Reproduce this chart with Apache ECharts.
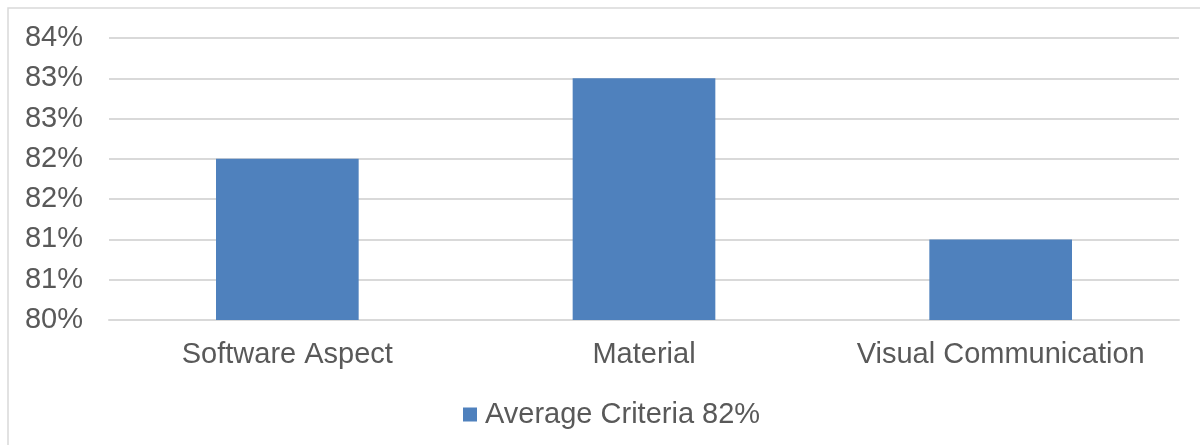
<!DOCTYPE html>
<html>
<head>
<meta charset="utf-8">
<style>
  html, body { margin: 0; padding: 0; background: #fff; }
  #chart { width: 1200px; height: 445px; }
</style>
<script src="https://cdn.jsdelivr.net/npm/echarts@6/dist/echarts.min.js"></script>
</head>
<body>
<div id="chart"></div>
<script>
var categories = ['Software Aspect', 'Material', 'Visual Communication'];
var seriesName = 'Average Criteria 82%';
var seriesValues = [82, 83, 81];
// Excel shows these rounded to whole percent, so ticks repeat
var yTickLabels = ['80%', '81%', '81%', '82%', '82%', '83%', '83%', '84%'];
var yMin = 80, yMax = 83.5, yStep = 0.5;

var myChart = echarts.init(document.getElementById('chart'));
var textColor = '#595959';
var font = 'Liberation Sans, Arial, sans-serif';
var fsize = 29;

var option = {
	animation: false,
	graphic: [{
		type: 'rect',
		shape: { x: 8, y: 8, width: 1300, height: 600 },
		style: { fill: 'none', stroke: '#d9d9d9', lineWidth: 1.5 },
		silent: true
	}],
	grid: { left: 109, right: 21, top: 38, bottom: 125 },
	legend: {
		data: [seriesName],
		left: 458,
		top: 395,
		icon: 'rect',
		itemWidth: 14,
		itemHeight: 14,
		itemGap: 8,
		textStyle: { color: textColor, fontSize: fsize, fontFamily: font, padding: [0, 0, 0, 3] }
	},
	xAxis: {
		type: 'category',
		data: categories,
		axisLine: { lineStyle: { color: '#d9d9d9', width: 2 } },
		axisTick: { show: false },
		axisLabel: {
			color: textColor, fontSize: fsize, fontFamily: font, margin: 20,
			interval: 0, hideOverlap: false
		}
	},
	yAxis: {
		type: 'value',
		min: yMin,
		max: yMax,
		interval: yStep,
		axisLine: { show: false },
		axisTick: { show: false },
		splitLine: { lineStyle: { color: '#d9d9d9', width: 2 } },
		axisLabel: {
			color: textColor, fontSize: fsize, fontFamily: font, margin: 26,
			formatter: function (v) {
				return yTickLabels[Math.round((v - yMin) / yStep)];
			}
		}
	},
	series: [{
		name: seriesName,
		type: 'bar',
		data: seriesValues,
		barWidth: '40%',
		itemStyle: { color: '#4f81bd' }
	}]
};
myChart.setOption(option, true);
</script>
</body>
</html>
